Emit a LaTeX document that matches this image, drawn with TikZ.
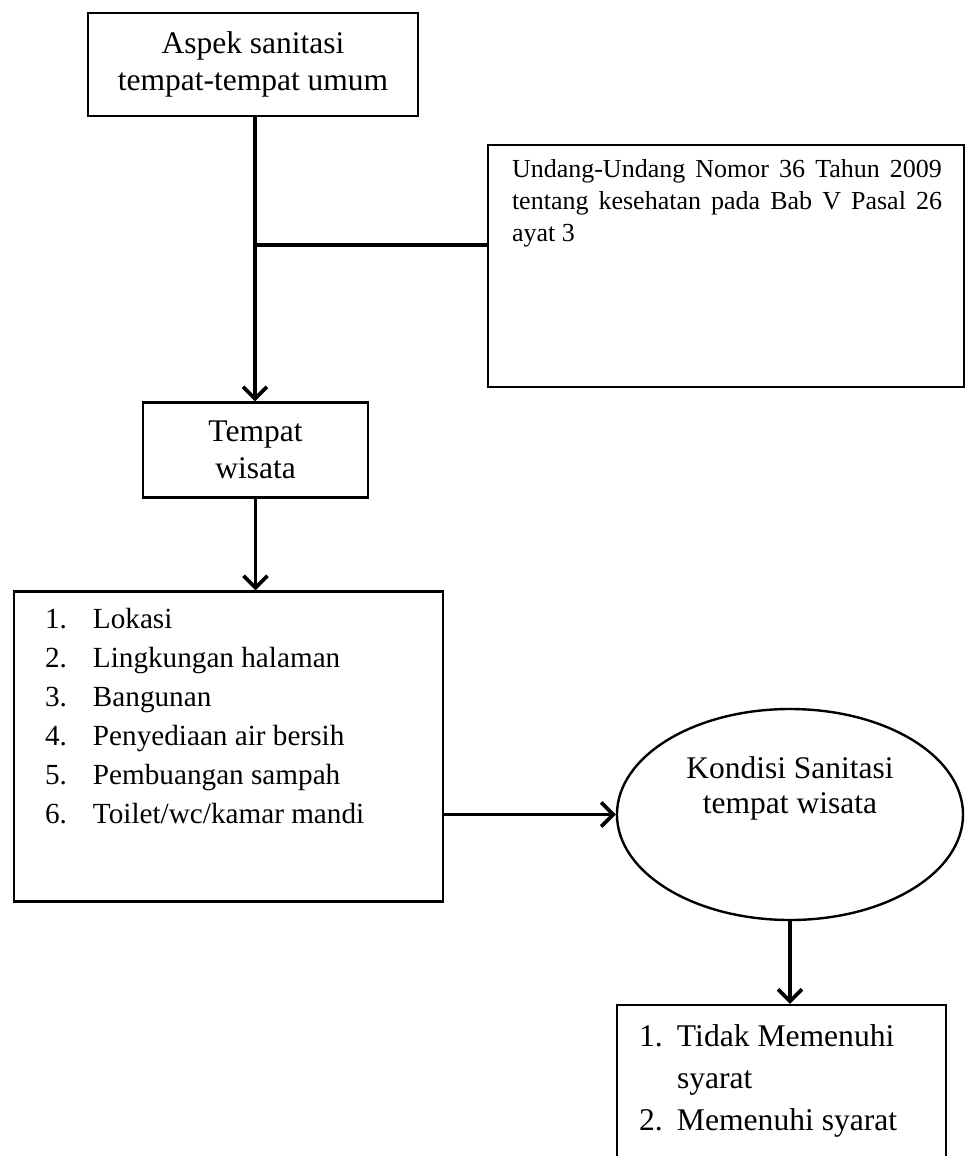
\documentclass[tikz,border=0pt]{standalone}
\usepackage{fontspec}
\setmainfont{Liberation Serif}
\usepackage{tikz}
\usetikzlibrary{shapes.geometric}
\usetikzlibrary{arrows.meta}

\begin{document}
\begin{tikzpicture}[x=1pt, y=-1pt,
                kotak/.style={draw, line width=2.4pt, inner sep=0pt, align=center,
                    font=\fontsize{31.5}{37}\selectfont},
                garis/.style={line width=3.6pt},
                panah/.style={garis, -{Straight Barb[length=12pt, width=24pt]}}]
                \useasboundingbox (0, 0) rectangle (965, 1156);

                \node [kotak, minimum width=330pt, minimum height=103pt] (aspek) at (253, 64.5)
                    {Aspek sanitasi\\tempat-tempat umum};
                \node [kotak] (undang) at (726, 266)
                    {\parbox[c][242pt][t]{476pt}{\fontsize{26}{32}\selectfont
                    \leftskip=24pt \rightskip=22pt \hyphenpenalty=10000
                    \vspace*{14pt}Undang-Undang Nomor 36 Tahun 2009 tentang kesehatan pada Bab V Pasal 26 ayat 3}};
                \node [kotak, minimum width=225pt, minimum height=95pt] (wisata) at (255.5, 450)
                    {Tempat\\wisata};
                \node [kotak] (faktor) at (228.5, 746.5)
                    {\parbox[c][310pt][t]{429pt}{\fontsize{29.2}{39}\selectfont\vspace*{16.6pt}
                    \hspace*{31pt}\makebox[48pt][l]{1.}Lokasi\\
                    \hspace*{31pt}\makebox[48pt][l]{2.}Lingkungan halaman\\
                    \hspace*{31pt}\makebox[48pt][l]{3.}Bangunan\\
                    \hspace*{31pt}\makebox[48pt][l]{4.}Penyediaan air bersih\\
                    \hspace*{31pt}\makebox[48pt][l]{5.}Pembuangan sampah\\
                    \hspace*{31pt}\makebox[48pt][l]{6.}Toilet/wc/kamar mandi}};
                \node [kotak, ellipse] (kondisi) at (790, 814.5)
                    {\parbox[c][149.2pt][t]{244.7pt}{\centering\fontsize{31.5}{35}\selectfont\vspace*{16.5pt}
                    Kondisi Sanitasi\\tempat wisata}};
                \node [kotak] (hasil) at (781.5, 1085)
                    {\parbox[c][160pt][t]{329pt}{\fontsize{31.6}{42}\selectfont\vspace*{20pt}
                    \hspace*{22pt}\makebox[38pt][l]{1.}Tidak Memenuhi\\
                    \hspace*{60pt}syarat\\
                    \hspace*{22pt}\makebox[38pt][l]{2.}Memenuhi syarat}};

                \coordinate (cabang) at (255, 245);
                \draw [garis] (cabang) -- (undang.west |- cabang);
                \draw [panah] (aspek.south -| cabang) -- (wisata.north -| cabang);
                \draw [panah] (wisata.south) -- (faktor.north -| wisata.south);
                \draw [panah] (faktor.east |- kondisi.west) -- (kondisi.west);
                \draw [panah] (kondisi.south) -- (hasil.north -| kondisi.south);
            \end{tikzpicture}
\end{document}
